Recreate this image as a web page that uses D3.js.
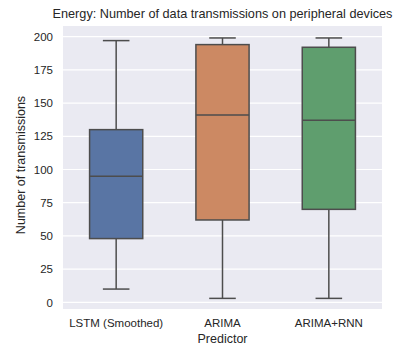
<!DOCTYPE html>
<html><head><meta charset="utf-8">
<script src="https://cdn.jsdelivr.net/npm/d3@7"></script>
<style>body{margin:0;background:#fff;} svg{display:block;font-family:"Liberation Sans",Arial,sans-serif;}</style>
</head><body>
<svg id="chart" width="393" height="347"></svg>
<script>
const categories = ["LSTM (Smoothed)", "ARIMA", "ARIMA+RNN"];
const whiskerLow = [10, 3, 3];
const q1 = [48, 62, 70];
const median = [95, 141, 137];
const q3 = [130, 194, 192];
const whiskerHigh = [197, 199, 199];
const colors = ["#5975a4", "#cc8963", "#5f9e6e"];
const yTicks = [0, 25, 50, 75, 100, 125, 150, 175, 200];

const svg = d3.select("#chart");
const mLeft = 63, mRight = 382, mTop = 26, mBottom = 309;
const x = d3.scaleBand().domain(categories).range([mLeft, mRight]);
const y = d3.scaleLinear().domain([-5, 208]).range([mBottom, mTop]);
const lineColor = "#4d4d4d";

svg.append("rect").attr("x", mLeft).attr("y", mTop).attr("width", mRight-mLeft).attr("height", mBottom-mTop).attr("fill", "#eaeaf2");
svg.append("g").selectAll("line").data(yTicks).join("line")
  .attr("x1", mLeft).attr("x2", mRight).attr("y1", d=>y(d)).attr("y2", d=>y(d))
  .attr("stroke", "#fff").attr("stroke-width", 1.2);

const yAxis = svg.append("g").attr("transform", `translate(${mLeft},0)`)
  .call(d3.axisLeft(y).tickValues(yTicks).tickSize(0).tickPadding(10));
yAxis.select(".domain").remove();
yAxis.selectAll("text").attr("font-size", 11.5).attr("fill", "#262626").attr("font-family", "Liberation Sans, Arial, sans-serif");

const xAxis = svg.append("g").attr("transform", `translate(0,${mBottom})`)
  .call(d3.axisBottom(x).tickSize(0).tickPadding(10));
xAxis.select(".domain").remove();
xAxis.selectAll("text").attr("font-size", 11.5).attr("fill", "#262626").attr("font-family", "Liberation Sans, Arial, sans-serif");

const bw = x.bandwidth() * 0.5;
const g = svg.append("g").selectAll("g").data(categories).join("g");
g.append("line")
  .attr("x1", (d)=>x(d)+x.bandwidth()/2).attr("x2", (d)=>x(d)+x.bandwidth()/2)
  .attr("y1", (d,i)=>y(q3[i])).attr("y2", (d,i)=>y(whiskerHigh[i]))
  .attr("stroke", lineColor).attr("stroke-width", 1.5);
g.append("line")
  .attr("x1", (d)=>x(d)+x.bandwidth()/2).attr("x2", (d)=>x(d)+x.bandwidth()/2)
  .attr("y1", (d,i)=>y(q1[i])).attr("y2", (d,i)=>y(whiskerLow[i]))
  .attr("stroke", lineColor).attr("stroke-width", 1.5);
[whiskerHigh, whiskerLow].forEach(arr => {
  g.append("line")
    .attr("x1", (d)=>x(d)+x.bandwidth()/2 - bw/4).attr("x2", (d)=>x(d)+x.bandwidth()/2 + bw/4)
    .attr("y1", (d,i)=>y(arr[i])).attr("y2", (d,i)=>y(arr[i]))
    .attr("stroke", lineColor).attr("stroke-width", 1.5);
});
g.append("rect")
  .attr("x", d=>x(d)+x.bandwidth()/2 - bw/2).attr("width", bw)
  .attr("y", (d,i)=>y(q3[i])).attr("height", (d,i)=>y(q1[i])-y(q3[i]))
  .attr("fill", (d,i)=>colors[i]).attr("stroke", lineColor).attr("stroke-width", 1.5);
g.append("line")
  .attr("x1", d=>x(d)+x.bandwidth()/2 - bw/2).attr("x2", d=>x(d)+x.bandwidth()/2 + bw/2)
  .attr("y1", (d,i)=>y(median[i])).attr("y2", (d,i)=>y(median[i]))
  .attr("stroke", lineColor).attr("stroke-width", 1.5);

svg.append("text").attr("x", (mLeft+mRight)/2).attr("y", 18).attr("text-anchor", "middle")
  .attr("font-size", 12.7).attr("fill", "#262626").text("Energy: Number of data transmissions on peripheral devices");
svg.append("text").attr("x", (mLeft+mRight)/2).attr("y", 343).attr("text-anchor", "middle")
  .attr("font-size", 12.5).attr("fill", "#262626").text("Predictor");
svg.append("text").attr("transform", `translate(25,165) rotate(-90)`).attr("text-anchor", "middle")
  .attr("font-size", 12.5).attr("fill", "#262626").text("Number of transmissions");
</script>
</body></html>
